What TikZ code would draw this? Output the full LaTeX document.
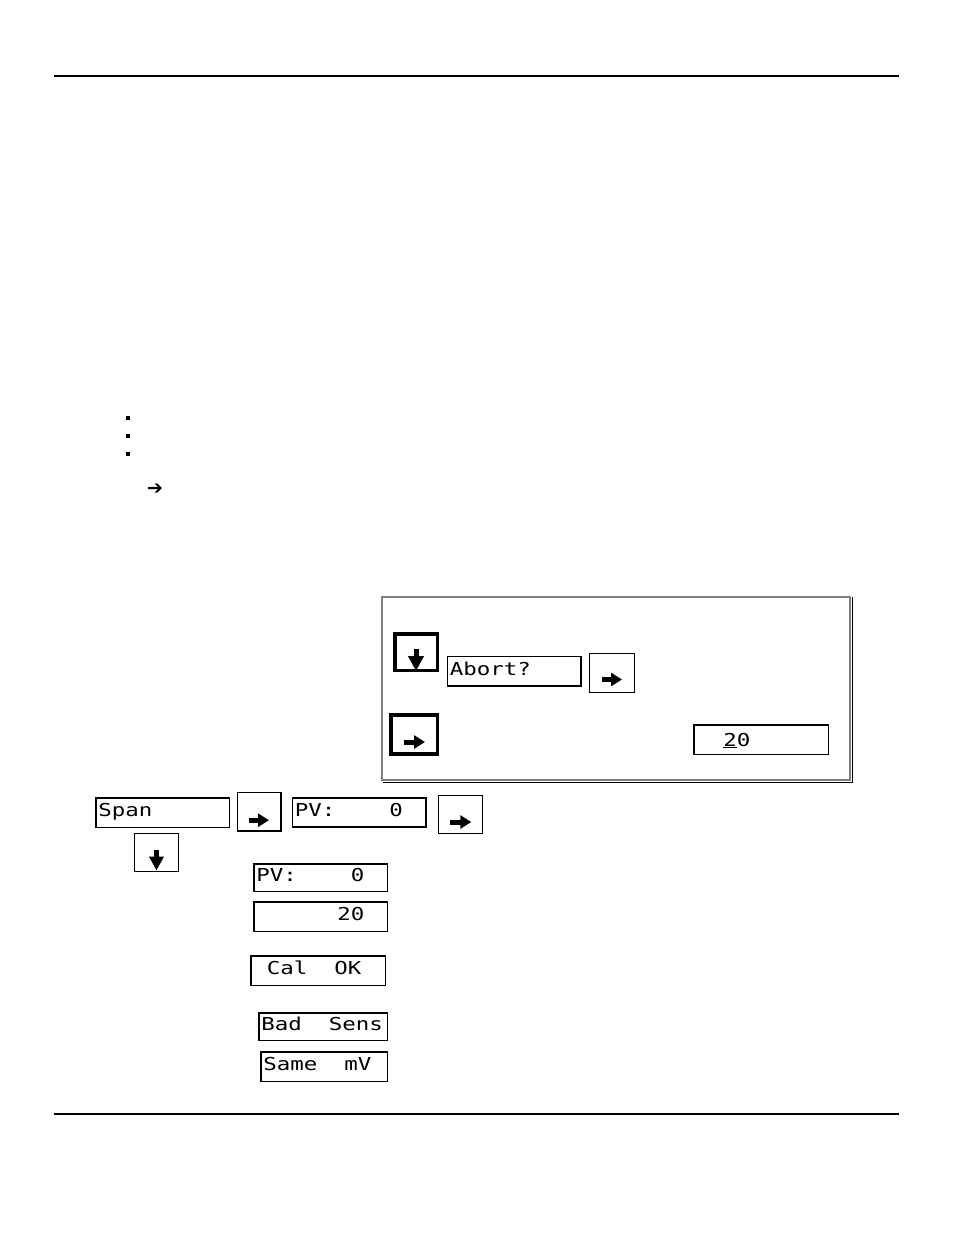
\documentclass[tikz,border=0pt]{standalone}
\usepackage{fontspec}
\usetikzlibrary{arrows.meta}
\newfontfamily\lcdfont[FakeStretch=1.26]{DejaVu Sans Mono}
\newfontfamily\symfont{DejaVu Sans}
\newcommand\lcdtext{\lcdfont\fontsize{17.8pt}{20pt}\selectfont}
\newlength\lcdpitch
\newcommand\lcdgap[1]{\hspace*{#1\lcdpitch}}

\begin{document}
\settowidth{\lcdpitch}{\lcdtext 0}
\begin{tikzpicture}[x=1pt, y=-1pt,
    lcd/.style={draw, line width=1.5pt, inner xsep=2.5pt, inner ysep=0pt, text width=128.5pt,
        minimum height=29.5pt, align=left, text height=12.5pt, text depth=4.5pt, font=\lcdtext},
    key/.style={draw, line width=1.3pt, minimum width=44pt, minimum height=38pt, inner sep=0pt},
    hardkey/.style={key, line width=3.5pt},
    keyarrow/.style={line width=5pt, -{Triangle[length=11pt, width=13pt]}},
    bullet/.style={fill, minimum size=4pt, inner sep=0pt}]
    \useasboundingbox[fill=white] (0,0) rectangle (954,1235);
    % page rules
    \draw[line width=1.2pt] (54,76) -- (899,76);
    \draw[line width=2.2pt] (54,1114) -- (899,1114);
    % bullets and pointer
    \foreach \y [count=\i] in {418,436,454} \node[bullet] (dot\i) at (128,\y) {};
    \node[font=\symfont\bfseries\fontsize{19pt}{19pt}\selectfont, inner sep=0pt] (pointer) at (155,489) {➔};
    % abort panel
    \node[draw=gray, line width=2pt, minimum width=467.7pt, minimum height=183.3pt, inner sep=0pt] (panel) at (616,688.7) {};
    \draw[line width=1pt] ([shift={(1.5pt,-1.5pt)}]panel.south west) -- ([shift={(1.5pt,-1.5pt)}]panel.south east)
        -- ([shift={(1.5pt,-1pt)}]panel.north east);
    \node[hardkey, minimum width=42.5pt, minimum height=36.5pt] (pdown) at (416,652) {};
    \draw[keyarrow, -{Triangle[length=15pt, width=15pt]}] ([yshift=3pt]pdown.center) -- ([yshift=-19pt]pdown.center);
    \node[lcd] (abort) at (514,671) {Abort?};
    \node[key, minimum width=44.7pt, minimum height=38.4pt] (pright) at (612,673) {};
    \draw[keyarrow] ([shift={(-10pt,-6.5pt)}]pright.center) -- ([shift={(10pt,-6.5pt)}]pright.center);
    \node[hardkey, minimum width=46.5pt, minimum height=39pt] (penter) at (414,734.5) {};
    \draw[keyarrow] ([shift={(-10pt,-7.5pt)}]penter.center) -- ([shift={(11pt,-7.5pt)}]penter.center);
    \node[lcd, text width=129.5pt, text height=15pt, text depth=2pt] (pvalue) at (761,739.5) {\lcdgap{2}\underline{2}0};
    % span sequence
    \node[lcd] (span) at (162.5,812.5) {Span};
    \node[key, minimum width=43.7pt, minimum height=38.7pt] (kone) at (259,811.7) {};
    \draw[keyarrow] ([shift={(-10pt,-8.5pt)}]kone.center) -- ([shift={(10pt,-8.5pt)}]kone.center);
    \node[lcd, minimum height=29pt] (pvtop) at (359,812.3) {PV:\lcdgap{4}0};
    \node[key, minimum height=37.7pt] (ktwo) at (460.3,814.5) {};
    \draw[keyarrow] ([shift={(-10pt,-7.5pt)}]ktwo.center) -- ([shift={(11pt,-7.5pt)}]ktwo.center);
    \node[key, minimum width=43.7pt, minimum height=37.7pt] (kdown) at (156.5,852.5) {};
    \draw[keyarrow, -{Triangle[length=14pt, width=14pt]}] ([yshift=3pt]kdown.center) -- ([yshift=-18pt]kdown.center);
    % readouts
    \node[lcd, minimum height=27.5pt] (pvlow) at (320.5,877.5) {PV:\lcdgap{4}0};
    \node[lcd] (reading) at (320.5,916.5) {\lcdgap{6}20};
    \node[lcd, text width=129.5pt] (calok) at (318,970.5) {\lcdgap{1}Cal\lcdgap{2}OK};
    \node[lcd, text width=123.5pt, minimum height=27.5pt] (badsens) at (323,1026.5) {Bad\lcdgap{2}Sens};
    \node[lcd, text width=121.5pt] (samemv) at (324,1066.5) {Same\lcdgap{2}mV};
\end{tikzpicture}
\end{document}
